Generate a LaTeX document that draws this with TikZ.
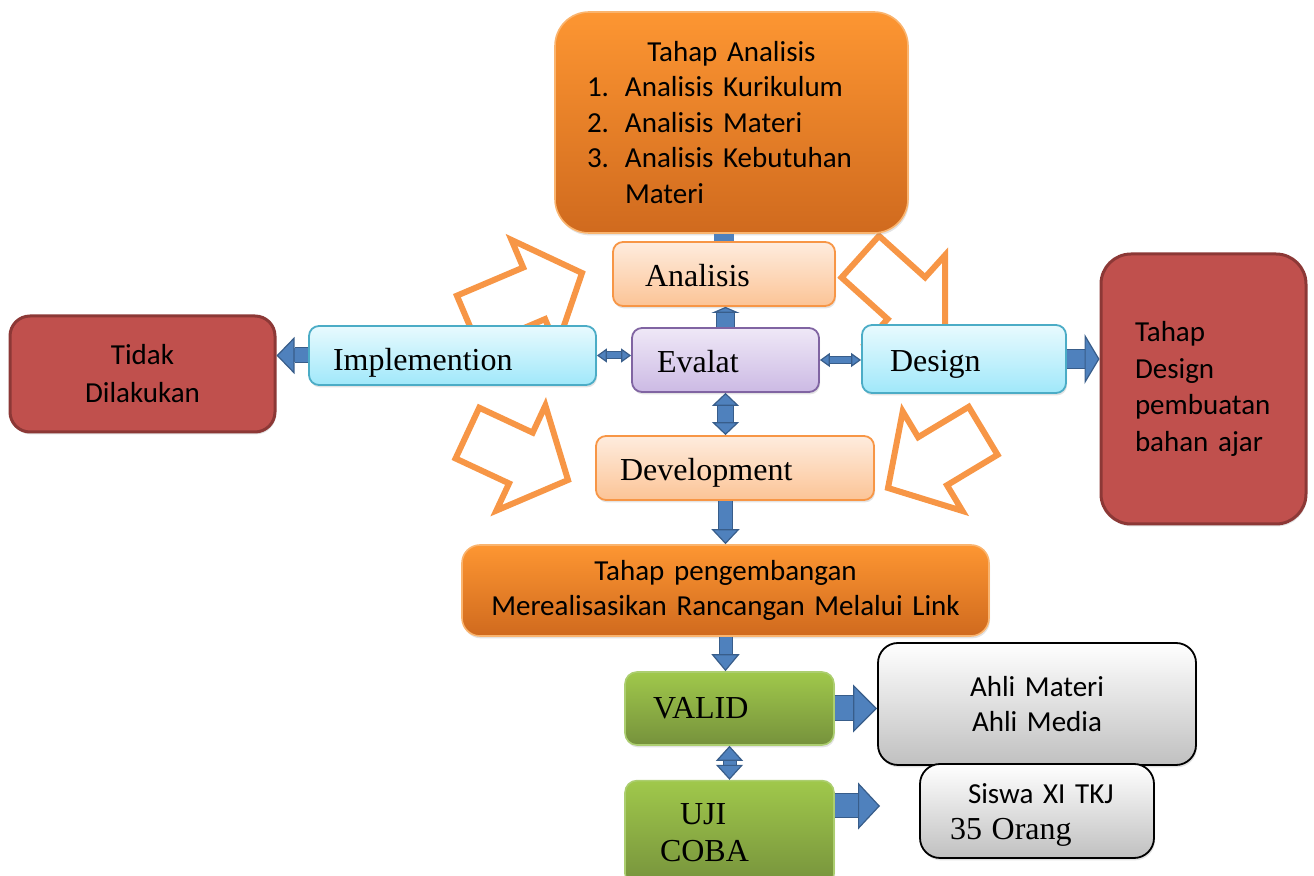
\documentclass[tikz,border=0pt]{standalone}
\usepackage{fontspec}
\setmainfont{Liberation Serif}
\setsansfont{Carlito}
\usetikzlibrary{arrows.meta,positioning,shadows}

\definecolor{flowblue}{RGB}{79,129,189}
\definecolor{flowblueedge}{RGB}{56,93,138}
\definecolor{floworange}{RGB}{247,150,70}
\definecolor{orangetop}{RGB}{253,150,50}
\definecolor{orangebottom}{RGB}{208,106,30}
\definecolor{orangeedge}{RGB}{250,180,110}
\definecolor{peachtop}{RGB}{254,236,222}
\definecolor{peachbottom}{RGB}{252,196,150}
\definecolor{cyantop}{RGB}{232,250,254}
\definecolor{cyanbottom}{RGB}{160,232,250}
\definecolor{cyanedge}{RGB}{75,172,198}
\definecolor{lilactop}{RGB}{239,232,247}
\definecolor{lilacbottom}{RGB}{204,186,228}
\definecolor{lilacedge}{RGB}{128,100,162}
\definecolor{flowred}{RGB}{192,80,77}
\definecolor{flowrededge}{RGB}{140,56,54}
\definecolor{greentop}{RGB}{160,200,75}
\definecolor{greenbottom}{RGB}{118,146,60}
\definecolor{greenedge}{RGB}{172,206,112}
\definecolor{graybottom}{RGB}{192,192,192}
\tikzset{
  flow box/.style={rectangle,inner ysep=0pt,
    drop shadow={opacity=0.22,shadow xshift=0.5pt,shadow yshift=-1.2pt}},
  flow sans/.style={font=\sffamily\fontsize{14.5}{17.75}\selectfont},
  flow serif/.style={font=\rmfamily\fontsize{16}{18.5}\selectfont},
  flow line/.style={text height=12.5pt,text depth=0pt},
  flow orange/.style={flow box,flow sans,top color=orangetop,bottom color=orangebottom,
    draw=orangeedge,line width=0.8pt},
  flow peach/.style={flow box,flow serif,flow line,top color=peachtop,bottom color=peachbottom,
    draw=floworange,line width=0.9pt,rounded corners=5pt,align=left},
  flow cyan/.style={flow box,flow serif,flow line,top color=cyantop,bottom color=cyanbottom,
    draw=cyanedge,line width=0.9pt,rounded corners=5pt,align=left},
  flow lilac/.style={flow box,flow serif,flow line,top color=lilactop,bottom color=lilacbottom,
    draw=lilacedge,line width=0.9pt,rounded corners=5pt,align=left},
  flow red/.style={flow box,flow sans,fill=flowred,draw=flowrededge,line width=1.5pt},
  flow green/.style={flow box,flow serif,top color=greentop,bottom color=greenbottom,
    draw=greenedge,line width=0.8pt,rounded corners=6pt,align=left},
  flow gray/.style={flow box,flow sans,top color=white,bottom color=graybottom,
    draw=black,line width=0.9pt,rounded corners=10pt},
  flow arrow/.style n args={3}{draw=flowblue,line width=#1,
    -{Triangle[width=#2,length=#3,line width=0.6pt,color=flowblueedge,fill=flowblue]},
    preaction={draw=flowblueedge,line width=#1+1pt,arrows=-,shorten >=#3}},
  flow both/.style n args={3}{draw=flowblue,line width=#1,
    {Triangle[width=#2,length=#3,line width=0.6pt,color=flowblueedge,fill=flowblue]}-{Triangle[width=#2,length=#3,line width=0.6pt,color=flowblueedge,fill=flowblue]},
    preaction={draw=flowblueedge,line width=#1+1pt,arrows=-,shorten >=#3,shorten <=#3}},
  hollow arrow/.pic={\draw[floworange,line width=3pt,miter limit=10]
    (0,0) -- (-52,58) -- (-52,28) -- (-#1,28) -- (-#1,-28) -- (-52,-28) -- (-52,-58) -- cycle;}
}

\begin{document}
\begin{tikzpicture}[x=0.5pt,y=-0.5pt]
  \useasboundingbox (0,0) rectangle (1314,876);
  \clip (0,0) rectangle (1314,876);

  % cycle arrows round the centre
  \pic[rotate=23] at (582,273) {hollow arrow=124};
  \pic[rotate=-42] at (945,333) {hollow arrow=114};
  \pic[rotate=-25] at (568,480) {hollow arrow=111};
  \pic[rotate=211] at (888,488) {hollow arrow=111};

  \node[flow orange,rounded corners=17pt,minimum width=176.5pt,minimum height=110.5pt,
    text width=144.5pt,inner xsep=16pt,align=left] (tahap) at (731.5,122.5)
    {\leavevmode\hbox to\hsize{\hss Tahap Analisis\hss}\\
     \makebox[19pt][l]{1.}Analisis Kurikulum\\
     \makebox[19pt][l]{2.}Analisis Materi\\
     \makebox[19pt][l]{3.}Analisis Kebutuhan\\
     \hspace*{19pt}Materi};
  \node[flow peach,minimum width=111pt,minimum height=32pt,text width=79pt,inner xsep=16pt]
    (analisis) at (724,274) {Analisis};
  \node[flow lilac,minimum width=93.5pt,minimum height=32pt,text width=68.5pt,inner xsep=12.5pt]
    (evalat) at (725.5,360) {Evalat};
  \node[flow cyan,minimum width=143.5pt,minimum height=29.5pt,text width=119.5pt,inner xsep=12pt,
    text height=15pt] (impl) at (452.5,355.5) {Implemention};
  \node[flow cyan,minimum width=102pt,minimum height=34pt,text width=74pt,inner xsep=14pt]
    (design) at (964,359) {Design};
  \node[flow peach,minimum width=139pt,minimum height=32pt,text width=115pt,inner xsep=12pt]
    (devel) at (735,468) {Development};
  \node[flow red,rounded corners=10pt,minimum width=132.5pt,minimum height=58pt,
    text width=110pt,align=center,font=\sffamily\fontsize{14.5}{19}\selectfont]
    (tidak) at (142.5,374) {Tidak\\Dilakukan};
  \node[flow red,rounded corners=15pt,minimum width=102.5pt,minimum height=135pt,
    text width=68.5pt,inner xsep=17pt,align=left,font=\sffamily\fontsize{14.5}{18.2}\selectfont]
    (tdesign) at (1203.5,389) {Tahap\\Design\\pembuatan\\bahan ajar};
  \node[flow orange,rounded corners=9pt,minimum width=263.5pt,minimum height=45.5pt,
    text width=250pt,align=center] (peng) at (725.5,590.5)
    {Tahap pengembangan\\Merealisasikan Rancangan Melalui Link};
  \node[flow green,minimum width=104.5pt,minimum height=36.5pt,text width=76.5pt,inner xsep=14pt]
    (valid) at (729.5,708.5) {VALID};
  \node[flow green,minimum width=104.5pt,minimum height=52.5pt,text width=69.5pt,inner xsep=17.5pt,
    below=17pt of valid] (uji) {\hspace*{10pt}UJI\\COBA};
  \node[flow gray,minimum width=159pt,minimum height=61pt,text width=140pt,align=center]
    (ahli) at (1037,704) {Ahli Materi\\Ahli Media};
  \node[flow gray,minimum width=117pt,minimum height=47pt,text width=87pt,inner xsep=15pt,
    align=left,text height=14pt] (siswa) at (1037,811)
    {\hspace*{9pt}Siswa XI TKJ\\{\rmfamily\fontsize{16}{18.5}\selectfont 35 Orang}};
  \coordinate (ujiout) at (880,806);

  % block arrows
  \draw[flow arrow={8.5pt}{14pt}{3pt}] (evalat.north) -- (evalat.north |- analisis.south);
  \draw[flowblue,line width=10pt] (analisis.north) -- (analisis.north |- tahap.south);
  \draw[flow arrow={7pt}{18.5pt}{9pt}] (impl.west) -- (impl.west -| tidak.east);
  \draw[flow arrow={9pt}{25pt}{7.5pt}] (design.east) -- (design.east -| tdesign.west);
  \draw[flow both={3pt}{7pt}{5pt}] (impl.east) -- (impl.east -| evalat.west);
  \draw[flow both={3pt}{7pt}{5pt}] (evalat.east) -- (evalat.east -| design.west);
  \draw[flow both={7.5pt}{13.5pt}{6.5pt}] (evalat.south) -- (evalat.south |- devel.north);
  \draw[flow arrow={6.5pt}{14pt}{7.5pt}] (peng.north |- devel.south) -- (peng.north);
  \draw[flow arrow={6pt}{14pt}{8.5pt}] (peng.south) -- (peng.south |- valid.north);
  \draw[flow both={6pt}{13.5pt}{7.5pt}] (valid.south) -- (uji.north);
  \draw[flow arrow={12pt}{24pt}{12pt}] (valid.east) -- (valid.east -| ahli.west);
  \draw[flow arrow={11.5pt}{23.5pt}{11pt}] (uji.east |- ujiout) -- (ujiout);
\end{tikzpicture}
\end{document}
